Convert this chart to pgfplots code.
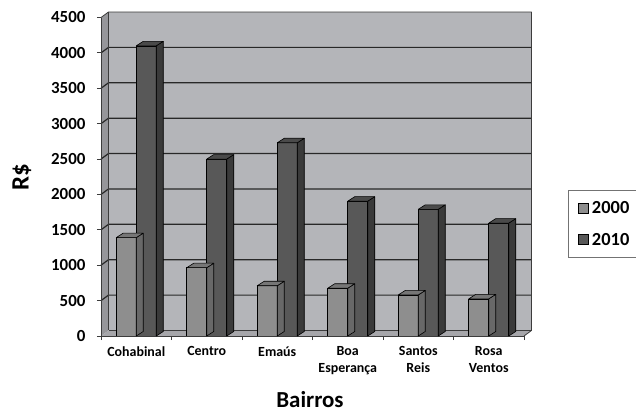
\documentclass[border=0pt]{standalone}
\usepackage{fontspec}
\setmainfont{Carlito}
\usepackage{pgfplots}
\usepackage{pgfplotstable}
\pgfplotsset{compat=1.18}

% palette
\definecolor{wallback}{RGB}{180,181,185}
\definecolor{wallside}{RGB}{150,150,154}
\definecolor{wallfloor}{RGB}{166,166,170}
\definecolor{gridc}{RGB}{40,40,40}
\definecolor{edgec}{RGB}{60,60,60}
\definecolor{aFront}{RGB}{142,142,142}
\definecolor{aTop}{RGB}{118,118,118}
\definecolor{aSide}{RGB}{104,104,104}
\definecolor{bFront}{RGB}{88,88,88}
\definecolor{bTop}{RGB}{74,74,74}
\definecolor{bSide}{RGB}{58,58,58}

% average income per neighbourhood (R$)
\pgfplotstableread{
idx v2000 v2010
0 1390 4100
1 965  2500
2 710  2730
3 675  1905
4 580  1790
5 525  1595
}\renda

% geometry of the pseudo-3D look (bp)
\newcommand\bw{20}      % bar width
\newcommand\dpx{7}      % bar depth, horizontal
\newcommand\dpy{4.5}    % bar depth, vertical
\newcommand\ylen{318.5} % axis height
\newcommand\ytop{4500}  % axis maximum
\newcommand\wx{7.5bp}   % wall depth
\newcommand\wy{5.5bp}

\pgfdeclareplotmark{blank}{}

% top and side faces of a column; #1 = left edge of the front face
% relative to the category centre, #2 = top colour, #3 = side colour
\newcommand\columnfaces[3]{%
  \pgfmathsetmacro\hh{\val/\ytop*\ylen}%
  \pgfmathsetmacro\xl{#1}%
  \pgfmathsetmacro\xr{#1+\bw}%
  \pgfmathsetmacro\xlb{\xl+\dpx}%
  \pgfmathsetmacro\xrb{\xr+\dpx}%
  \pgfmathsetmacro\yb{\dpy-\hh}%
  \filldraw[fill=#3, draw=black, line width=0.6bp, line join=round]
    (\xr bp,0bp) -- (\xrb bp,\dpy bp) -- (\xrb bp,\yb bp) -- (\xr bp,-\hh bp) -- cycle;
  \filldraw[fill=#2, draw=black, line width=0.6bp, line join=round]
    (\xl bp,0bp) -- (\xr bp,0bp) -- (\xrb bp,\dpy bp) -- (\xlb bp,\dpy bp) -- cycle;
}

\begin{document}
\begin{tikzpicture}
\useasboundingbox (0,0) rectangle (636bp,416bp);
\begin{axis}[
  at={(101bp,80bp)}, anchor=south west,
  scale only axis, width=423bp, height=318.5bp,
  xmin=-0.5, xmax=5.5, ymin=0, ymax=4500,
  clip=false, axis on top,
  axis x line*=bottom, axis y line*=left,
  axis line style={draw=edgec, line width=0.9bp},
  tick align=outside,
  major tick length=4bp,
  tick style={draw=edgec, line width=0.9bp},
  xtick={-0.5,0.5,...,5.5}, xticklabels={,,,,,,},
  extra x ticks={0,1,2,3,4,5},
  extra x tick labels={Cohabinal,Centro,Emaús,{Boa\\Esperança},{Santos\\Reis},{Rosa\\Ventos}},
  extra x tick style={major tick length=0pt, tick style={draw=none}},
  xticklabel style={font=\fontsize{14}{16.5}\selectfont\bfseries, align=center, yshift=-7bp},
  ytick={0,500,...,4500},
  yticklabel style={font=\fontsize{17}{19}\selectfont\bfseries, xshift=-8bp},
  scaled y ticks=false,
  /pgf/number format/assume math mode=true,
  /pgf/number format/1000 sep={},
  every axis y label/.style={at={([xshift=-79bp]rel axis cs:0,0.5)}, anchor=center, rotate=90,
    font=\fontsize{25}{27}\selectfont\bfseries},
  ylabel={R\$},
  every axis x label/.style={at={([yshift=-64bp]rel axis cs:0.494,0)}, anchor=center,
    font=\fontsize{23}{25}\selectfont\bfseries},
  xlabel={Bairros},
  legend style={at={(1.104,0.4584)}, anchor=north west, draw=black!55, line width=0.8bp,
    font=\fontsize{18.5}{20}\selectfont\bfseries, inner xsep=10bp, inner ysep=9bp, row sep=14bp,
    /tikz/every odd column/.append style={column sep=1bp}},
  legend cell align=left,
  legend image code/.code={\draw[#1, line width=0.6bp] (0bp,-5bp) rectangle (10bp,5bp);},
]

% back wall, side wall and floor
\fill[wallback] ([shift={(\wx,\wy)}]rel axis cs:0,0) rectangle ([shift={(\wx,\wy)}]rel axis cs:1,1);
\fill[wallside] (rel axis cs:0,0) -- ([shift={(\wx,\wy)}]rel axis cs:0,0)
  -- ([shift={(\wx,\wy)}]rel axis cs:0,1) -- (rel axis cs:0,1) -- cycle;
\fill[wallfloor] (rel axis cs:0,0) -- (rel axis cs:1,0)
  -- ([shift={(\wx,\wy)}]rel axis cs:1,0) -- ([shift={(\wx,\wy)}]rel axis cs:0,0) -- cycle;

% gridlines on the walls
\pgfplotsinvokeforeach{500,1000,...,4000}{
  \draw[gridc, line width=1.2bp] (axis cs:-0.5,#1) -- ([shift={(\wx,\wy)}]axis cs:-0.5,#1)
    -- ([shift={(\wx,\wy)}]axis cs:5.5,#1);
}
\draw[edgec, line width=0.6bp] ([shift={(\wx,\wy)}]rel axis cs:0,0) -- ([shift={(\wx,\wy)}]rel axis cs:1,0);
\draw[edgec, line width=0.6bp] ([shift={(\wx,\wy)}]rel axis cs:0,0) -- ([shift={(\wx,\wy)}]rel axis cs:0,1);
\draw[edgec, line width=0.8bp, line join=round] (rel axis cs:0,1) -- ([shift={(\wx,\wy)}]rel axis cs:0,1)
  -- ([shift={(\wx,\wy)}]rel axis cs:1,1) -- ([shift={(\wx,\wy)}]rel axis cs:1,0) -- (rel axis cs:1,0);

% 2000
\addplot[ybar, bar width=\bw bp, bar shift=-10bp, fill=aFront, draw=black, line width=0.6bp, forget plot]
  table[x=idx, y=v2000] {\renda};
\addplot[scatter, only marks, mark=blank, forget plot,
  visualization depends on={\thisrow{v2000} \as \val},
  scatter/@pre marker code/.code={\columnfaces{-20}{aTop}{aSide}},
  scatter/@post marker code/.code={}]
  table[x=idx, y=v2000] {\renda};

% 2010
\addplot[ybar, bar width=\bw bp, bar shift=10bp, fill=bFront, draw=black, line width=0.6bp, forget plot]
  table[x=idx, y=v2010] {\renda};
\addplot[scatter, only marks, mark=blank, forget plot,
  visualization depends on={\thisrow{v2010} \as \val},
  scatter/@pre marker code/.code={\columnfaces{0}{bTop}{bSide}},
  scatter/@post marker code/.code={}]
  table[x=idx, y=v2010] {\renda};

\addlegendimage{fill=aFront, draw=black}
\addlegendentry{2000}
\addlegendimage{fill=bFront, draw=black}
\addlegendentry{2010}
\end{axis}
\end{tikzpicture}
\end{document}
